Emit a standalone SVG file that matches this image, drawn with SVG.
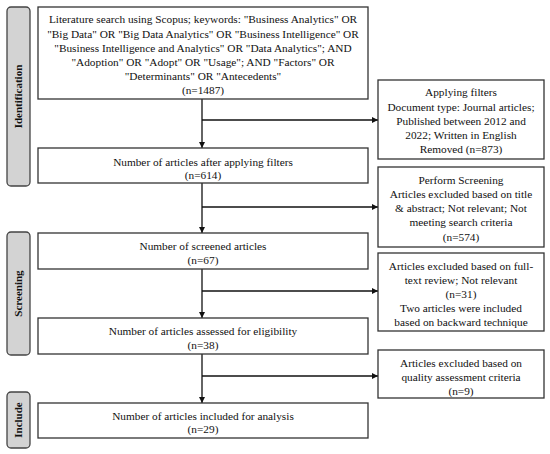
<svg xmlns="http://www.w3.org/2000/svg" width="550" height="454" viewBox="0 0 550 454">
<defs>
<marker id="ah" viewBox="0 0 10 10" refX="10" refY="5" markerWidth="6" markerHeight="6" markerUnits="userSpaceOnUse" orient="auto">
<path d="M0,0 L10,5 L0,10 z" fill="#111"/>
</marker>
<style>
.box{fill:#fff;stroke:#333;stroke-width:1.3}
.stage{fill:#d3d3d3;stroke:#444;stroke-width:1.3}
.t{font-family:"Liberation Serif","Times New Roman",serif;font-size:11.3px;fill:#111;text-anchor:middle}
.s{font-family:"Liberation Serif","Times New Roman",serif;font-size:11px;font-weight:bold;fill:#111;text-anchor:middle}
.c{stroke:#111;stroke-width:1.3;fill:none;marker-end:url(#ah)}
</style>
</defs>
<rect width="550" height="454" fill="#fff"/>
<g id="stage-identification">
<rect class="stage" x="7" y="7" width="23" height="179" rx="4"/>
<text class="s" transform="translate(22,96.5) rotate(-90)">Identification</text>
</g>
<g id="stage-screening">
<rect class="stage" x="7" y="232" width="23" height="123" rx="4"/>
<text class="s" transform="translate(22,293.5) rotate(-90)">Screening</text>
</g>
<g id="stage-include">
<rect class="stage" x="7" y="392" width="23" height="56" rx="4"/>
<text class="s" transform="translate(22,420) rotate(-90)">Include</text>
</g>
<g id="connectors">
<line class="c" x1="202" y1="99" x2="202" y2="148"/>
<line class="c" x1="202" y1="183" x2="202" y2="233"/>
<line class="c" x1="202" y1="269" x2="202" y2="318"/>
<line class="c" x1="202" y1="354" x2="202" y2="403"/>
<line class="c" x1="202" y1="120" x2="378" y2="120"/>
<line class="c" x1="202" y1="207" x2="378" y2="207"/>
<line class="c" x1="202" y1="291" x2="378" y2="291"/>
<line class="c" x1="202" y1="376" x2="378" y2="376"/>
</g>
<g id="n1">
<rect class="box" x="38" y="7" width="330" height="92"/>
<text class="t" x="203" y="23">Literature search using Scopus; keywords: "Business Analytics" OR</text>
<text class="t" x="203" y="37.5">"Big Data" OR "Big Data Analytics" OR "Business Intelligence" OR</text>
<text class="t" x="203" y="51.5">"Business Intelligence and Analytics" OR "Data Analytics"; AND</text>
<text class="t" x="203" y="66">"Adoption" OR "Adopt" OR "Usage"; AND "Factors" OR</text>
<text class="t" x="203" y="80">"Determinants" OR "Antecedents"</text>
<text class="t" x="203" y="94">(n=1487)</text>
</g>
<g id="n2">
<rect class="box" x="38" y="148" width="330" height="35"/>
<text class="t" x="203" y="165.5">Number of articles after applying filters</text>
<text class="t" x="203" y="179">(n=614)</text>
</g>
<g id="n3">
<rect class="box" x="38" y="233" width="330" height="36"/>
<text class="t" x="203" y="249.5">Number of screened articles</text>
<text class="t" x="203" y="264">(n=67)</text>
</g>
<g id="n4">
<rect class="box" x="38" y="318" width="330" height="36"/>
<text class="t" x="203" y="334.5">Number of articles assessed for eligibility</text>
<text class="t" x="203" y="348.5">(n=38)</text>
</g>
<g id="n5">
<rect class="box" x="38" y="403" width="330" height="35"/>
<text class="t" x="203" y="419.5">Number of articles included for analysis</text>
<text class="t" x="203" y="433">(n=29)</text>
</g>
<g id="r1">
<rect class="box" x="378" y="80" width="166" height="79"/>
<text class="t" x="461" y="95.5">Applying filters</text>
<text class="t" x="461" y="111">Document type: Journal articles;</text>
<text class="t" x="461" y="125">Published between 2012 and</text>
<text class="t" x="461" y="139">2022; Written in English</text>
<text class="t" x="461" y="152.5">Removed (n=873)</text>
</g>
<g id="r2">
<rect class="box" x="378" y="167" width="166" height="80"/>
<text class="t" x="461" y="183.5">Perform Screening</text>
<text class="t" x="461" y="197.5">Articles excluded based on title</text>
<text class="t" x="461" y="212">&amp; abstract; Not relevant; Not</text>
<text class="t" x="461" y="226">meeting search criteria</text>
<text class="t" x="461" y="240.5">(n=574)</text>
</g>
<g id="r3">
<rect class="box" x="378" y="253" width="166" height="78"/>
<text class="t" x="461" y="269.5">Articles excluded based on full-</text>
<text class="t" x="461" y="284">text review; Not relevant</text>
<text class="t" x="461" y="298">(n=31)</text>
<text class="t" x="461" y="312">Two articles were included</text>
<text class="t" x="461" y="326">based on backward technique</text>
</g>
<g id="r4">
<rect class="box" x="378" y="350" width="166" height="48"/>
<text class="t" x="461" y="366.5">Articles excluded based on</text>
<text class="t" x="461" y="381">quality assessment criteria</text>
<text class="t" x="461" y="395">(n=9)</text>
</g>
</svg>
